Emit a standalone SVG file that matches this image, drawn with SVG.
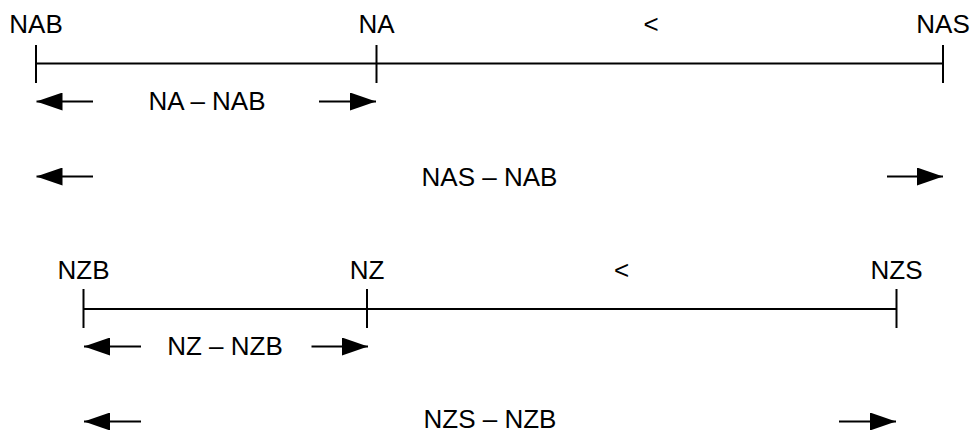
<svg xmlns="http://www.w3.org/2000/svg" width="973" height="430" viewBox="0 0 973 430">
<style>
text{font-family:"Liberation Sans",Arial,sans-serif;font-size:26px;fill:#000;text-anchor:middle}
.ln{stroke:#000;stroke-width:2;fill:none}
</style>
<defs>
<marker id="ah" markerUnits="userSpaceOnUse" markerWidth="26" markerHeight="18" refX="26" refY="9" orient="auto">
<path d="M0,0 L26,9 L0,18 Z" fill="#000"/>
</marker>
</defs>
<rect width="973" height="430" fill="#fff"/>
<g id="scaleA">
<line class="ln" x1="36" y1="63.5" x2="943" y2="63.5"/>
<line class="ln" x1="36" y1="45" x2="36" y2="83"/>
<line class="ln" x1="376.5" y1="45" x2="376.5" y2="83"/>
<line class="ln" x1="943" y1="45" x2="943" y2="83"/>
</g>
<g id="NAB"><text x="36" y="33">NAB</text></g>
<g id="NA"><text x="376.5" y="33">NA</text></g>
<g id="ltA"><text x="651" y="33">&lt;</text></g>
<g id="NAS"><text x="943" y="33">NAS</text></g>
<g id="NA-NAB"><text x="207" y="110">NA – NAB</text></g>
<g id="NAS-NAB"><text x="489.5" y="186">NAS – NAB</text></g>
<g id="scaleZ">
<line class="ln" x1="83.5" y1="309" x2="896.5" y2="309"/>
<line class="ln" x1="83.5" y1="289" x2="83.5" y2="328"/>
<line class="ln" x1="367" y1="289" x2="367" y2="328"/>
<line class="ln" x1="896.5" y1="289" x2="896.5" y2="328"/>
</g>
<g id="NZB"><text x="83.5" y="279">NZB</text></g>
<g id="NZ"><text x="367" y="279">NZ</text></g>
<g id="ltZ"><text x="621.5" y="279">&lt;</text></g>
<g id="NZS"><text x="896.5" y="279">NZS</text></g>
<g id="NZ-NZB"><text x="225" y="355">NZ – NZB</text></g>
<g id="NZS-NZB"><text x="490" y="428">NZS – NZB</text></g>
<g id="connectors">
<line class="ln" x1="93" y1="101.5" x2="36.5" y2="101.5" marker-end="url(#ah)"/>
<line class="ln" x1="319" y1="101.5" x2="376" y2="101.5" marker-end="url(#ah)"/>
<line class="ln" x1="93" y1="176.5" x2="36.5" y2="176.5" marker-end="url(#ah)"/>
<line class="ln" x1="887" y1="176.5" x2="943" y2="176.5" marker-end="url(#ah)"/>
<line class="ln" x1="141" y1="346.5" x2="84" y2="346.5" marker-end="url(#ah)"/>
<line class="ln" x1="311.5" y1="346.5" x2="368" y2="346.5" marker-end="url(#ah)"/>
<line class="ln" x1="141" y1="421.5" x2="84" y2="421.5" marker-end="url(#ah)"/>
<line class="ln" x1="839" y1="421.5" x2="896" y2="421.5" marker-end="url(#ah)"/>
</g>
</svg>
